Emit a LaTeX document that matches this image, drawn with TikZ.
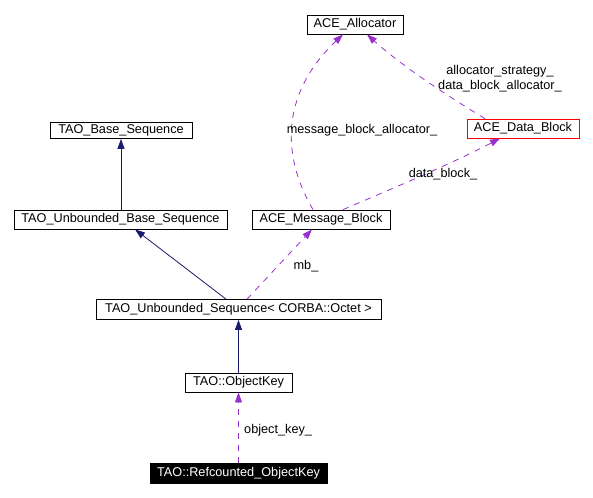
\documentclass[tikz,border=0pt]{standalone}
\usepackage{fontspec}
\setmainfont{Liberation Sans}
\usetikzlibrary{arrows.meta}
\definecolor{inhcol}{RGB}{25,25,112}
\definecolor{usecol}{RGB}{153,50,204}
\begin{document}
\begin{tikzpicture}[x=1pt,y=-1pt,
  every node/.style={font=\fontsize{12.7}{15}\selectfont},
  cls/.style={draw=black,line width=0.8pt,inner sep=0pt,fill=white},
  inh/.style={draw=inhcol,line width=0.8pt,-{Triangle[length=10pt,width=7pt]}},
  use/.style={draw=usecol,line width=0.8pt,dash pattern=on 6pt off 6pt,-{Triangle[length=10pt,width=7pt]}},
  lbl/.style={inner sep=0pt,align=center}]
\useasboundingbox (0,0) rectangle (593,497);
\fill[white] (0,0) rectangle (593,497);
% classes
\node[cls,minimum width=96pt,minimum height=19pt] (alloc) at (355,24.5) {ACE\_Allocator};
\node[cls,draw=red,minimum width=112pt,minimum height=19pt] (dblock) at (523,128.5) {ACE\_Data\_Block};
\node[cls,minimum width=138pt,minimum height=19pt] (msg) at (321,219.5) {ACE\_Message\_Block};
\node[cls,minimum width=142pt,minimum height=16pt] (base) at (121,130.5) {TAO\_Base\_Sequence};
\node[cls,minimum width=213pt,minimum height=19pt] (ubase) at (120.5,219.5) {TAO\_Unbounded\_Base\_Sequence};
\node[cls,minimum width=285pt,minimum height=20pt] (useq) at (238.5,309.5) {TAO\_Unbounded\_Sequence< CORBA::Octet >};
\node[cls,minimum width=107pt,minimum height=19pt] (okey) at (238.5,382.5) {TAO::ObjectKey};
\node[cls,fill=black,text=white,minimum width=177pt,minimum height=20pt] (rkey) at (238.5,473) {TAO::Refcounted\_ObjectKey};
% inheritance
\draw[inh] (ubase.north -| base.south) -- (base.south);
\draw[inh] ([xshift=-12.5pt]useq.north) -- ([xshift=14.5pt]ubase.south);
\draw[inh] (okey.north) -- (useq.south);
% usage
\draw[use] ([xshift=8.5pt]useq.north) -- ([xshift=-9pt]msg.south);
\draw[use] (rkey.north) -- (okey.south);
\draw[use] ([xshift=-8pt]msg.north) .. controls +(-35,-60) and +(-58,55) .. ([xshift=-12pt]alloc.south);
\draw[use] ([xshift=22pt]msg.north) .. controls +(47,-20) and +(-50,26) .. ([xshift=-23pt]dblock.south);
\draw[use] ([xshift=-38pt]dblock.north) .. controls +(-40,-24) and +(33,30) .. ([xshift=12pt]alloc.south);
% labels
\node[lbl] (lmba) at (362,130) {message\_block\_allocator\_};
\node[lbl] (las) at (500,78.5) {allocator\_strategy\_\\data\_block\_allocator\_};
\node[lbl] (ldb) at (443,174) {data\_block\_};
\node[lbl] (lmb) at (306,266) {mb\_};
\node[lbl,anchor=west] (lok) at (244,430) {object\_key\_};
\end{tikzpicture}
\end{document}
